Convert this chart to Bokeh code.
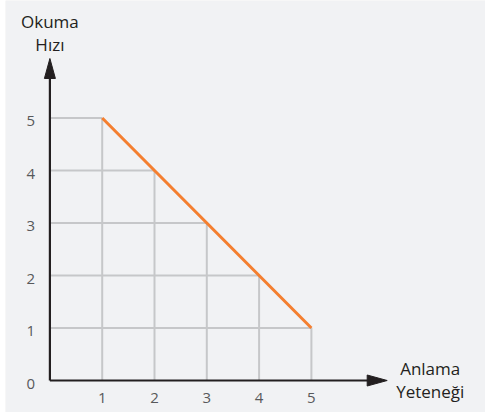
from bokeh.plotting import figure
from bokeh.models import Range1d, ColumnDataSource, BoxAnnotation
from bokeh.core.properties import value
from bokeh.embed import file_html
from bokeh.resources import INLINE

# ---- data ----
anlama = [1, 2, 3, 4, 5]          # x: Anlama Yeteneği
okuma = [5, 4, 3, 2, 1]           # y: Okuma Hızı
x_ticks = [1, 2, 3, 4, 5]
x_tick_labels = ["1", "2", "3", "4", "5"]
y_ticks = [0, 1, 2, 3, 4, 5]
y_tick_labels = ["0", "1", "2", "3", "4", "5"]
x_title = ["Anlama", "Yeteneği"]
y_title = ["Okuma", "Hızı"]

# ---- styling / layout constants ----
W, H = 485, 412
LEFT_PAD = 5
FW, FH = W - LEFT_PAD, H          # frame size
PX_X, PX_Y = 52.3, 52.5           # pixels per data unit
ORIGIN_X, ORIGIN_Y = 44.4, 380.0  # origin in frame pixels (from left / from top)
BG = "#f1f2f4"
GRID = "#c6c7c9"
AXIS = "#231f20"
ORANGE = "#f47f30"
TICK_COL = "#58595b"
FONT = value("Open Sans")

x_start = -ORIGIN_X / PX_X
x_end = (FW - ORIGIN_X) / PX_X
y_start = -(FH - ORIGIN_Y) / PX_Y
y_end = ORIGIN_Y / PX_Y

p = figure(width=W, height=H, output_backend="svg", toolbar_location=None,
           x_range=Range1d(x_start, x_end), y_range=Range1d(y_start, y_end),
           min_border=0, min_border_left=LEFT_PAD,
           background_fill_color=BG, border_fill_color="white")
p.axis.visible = False
p.grid.visible = False
p.outline_line_color = None

# explicit panel background
p.add_layout(BoxAnnotation(fill_color=BG, fill_alpha=1.0, line_color=None,
                           level="underlay"))

# drop lines from each point to the axes
n = len(anlama)
grid_src = ColumnDataSource(dict(
    x0=list(anlama) + [0] * n,
    y0=[0] * n + list(okuma),
    x1=list(anlama) + list(anlama),
    y1=list(okuma) + list(okuma),
))
p.segment("x0", "y0", "x1", "y1", source=grid_src, line_color=GRID, line_width=2)

# main line
p.line(anlama, okuma, line_color=ORANGE, line_width=3)

# axes with arrows
y_tip = 322.0 / PX_Y
x_tip = 337.3 / PX_X
head_len_y = 20 / PX_Y
head_len_x = 20 / PX_X
half_w_x = 5.5 / PX_X
half_w_y = 5.5 / PX_Y
p.segment([0, 0], [0, 0], [0, x_tip - head_len_x * 0.5], [y_tip - head_len_y * 0.5, 0],
          line_color=AXIS, line_width=2.2)
p.patches(
    [[-half_w_x, 0, half_w_x], [x_tip - head_len_x, x_tip, x_tip - head_len_x]],
    [[y_tip - head_len_y, y_tip, y_tip - head_len_y], [half_w_y, 0, -half_w_y]],
    fill_color=AXIS, line_color=AXIS, line_width=1)

# tick labels
p.text(x=x_ticks, y=[0] * len(x_ticks), text=x_tick_labels, text_font=FONT,
       text_font_size="15px", text_color=TICK_COL, text_align="center",
       text_baseline="middle", y_offset=17)
p.text(x=[0] * len(y_ticks), y=y_ticks, text=y_tick_labels, text_font=FONT,
       text_font_size="15px", text_color=TICK_COL, text_align="center",
       text_baseline="middle", x_offset=-19, y_offset=3)

# axis titles
p.text(x=[0, 0], y=[y_tip, y_tip], text=y_title, text_font=FONT,
       text_font_size="17px", text_color=AXIS, text_align="center",
       text_baseline="middle", y_offset=[-37, -14])
p.text(x=[x_tip, x_tip], y=[0, 0], text=x_title, text_font=FONT,
       text_font_size="17px", text_color=AXIS, text_align="center",
       text_baseline="middle", x_offset=43, y_offset=[-12, 11])

open("out.html", "w").write(file_html(p, INLINE))
